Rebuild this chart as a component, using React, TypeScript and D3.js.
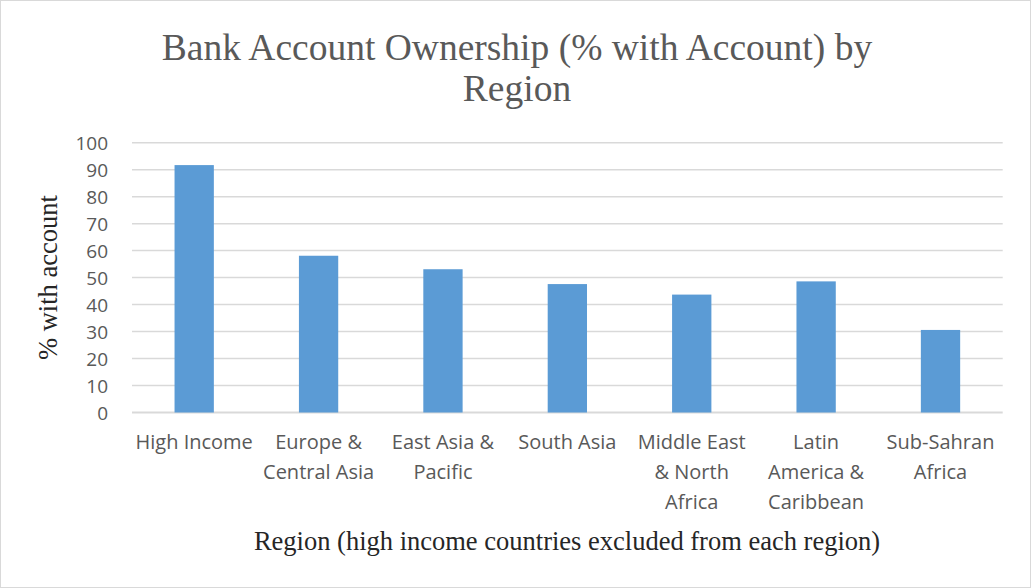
import React from "react";
import * as d3 from "d3";

const categories: string[][] = [
  ["High Income"],
  ["Europe &", "Central Asia"],
  ["East Asia &", "Pacific"],
  ["South Asia"],
  ["Middle East", "& North", "Africa"],
  ["Latin", "America &", "Caribbean"],
  ["Sub-Sahran", "Africa"],
];
const values: number[] = [91.7, 58.1, 53.1, 47.6, 43.7, 48.6, 30.6];
const yTicks: number[] = [0, 10, 20, 30, 40, 50, 60, 70, 80, 90, 100];
const titleLines = ["Bank Account Ownership (% with Account) by", "Region"];
const yTitle = "% with account";
const xTitle = "Region (high income countries excluded from each region)";

const W = 1031;
const H = 588;
const left = 132;
const right = 1002.7;
const top = 142.7;
const bottom = 412.5;

export default function App() {
  const idx = categories.map((_, i) => String(i));
  const x = d3.scaleBand<string>().domain(idx).range([left, right]).paddingInner(0.684).paddingOuter(0.342);
  const y = d3.scaleLinear().domain([0, 100]).range([bottom, top]);
  const serif = "'Liberation Serif', 'Times New Roman', serif";
  const sans = "'Open Sans', sans-serif";
  const textColor = "#595959";
  return (
    <svg width={W} height={H} style={{ position: "absolute", left: 0, top: 0 }}>
      <rect x={0.5} y={0.5} width={W - 1} height={H - 1} fill="#fff" stroke="#d9d9d9" />
      {titleLines.map((t, i) => (
        <text key={i} x={517} y={60 + i * 41} textAnchor="middle" fontFamily={serif} fontSize={37.5} fill={textColor}>
          {t}
        </text>
      ))}
      {yTicks.map((t) => (
        <g key={t}>
          <line x1={left} x2={right} y1={y(t)} y2={y(t)} stroke="#d9d9d9" strokeWidth={t === 0 ? 2 : 1.5} />
          <text x={108} y={y(t) + 7} textAnchor="end" fontFamily={sans} fontSize={19} fill={textColor}>
            {t}
          </text>
        </g>
      ))}
      {values.map((v, i) => (
        <rect key={i} x={x(String(i))} y={y(v)} width={x.bandwidth()} height={y(0) - y(v)} fill="#5b9bd5" />
      ))}
      {categories.map((lines, i) => (
        <text key={i} textAnchor="middle" fontFamily={sans} fontSize={20} fill={textColor}>
          {lines.map((l, j) => (
            <tspan key={j} x={(x(String(i)) as number) + x.bandwidth() / 2} y={449 + j * 30}>
              {l}
            </tspan>
          ))}
        </text>
      ))}
      <text transform={`translate(57,${(top + bottom) / 2}) rotate(-90)`} textAnchor="middle" fontFamily={serif} fontSize={26.5} fill="#262626">
        {yTitle}
      </text>
      <text x={567} y={550} textAnchor="middle" fontFamily={serif} fontSize={26.5} fill="#262626">
        {xTitle}
      </text>
    </svg>
  );
}
